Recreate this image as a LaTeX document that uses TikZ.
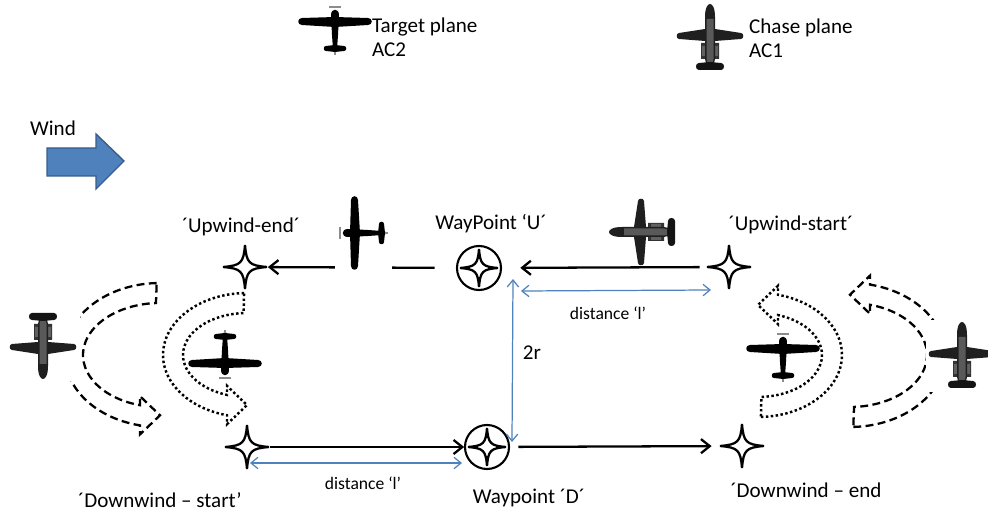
\documentclass[tikz,border=0pt]{standalone}
\usepackage{fontspec}
\setmainfont{Carlito}
\usetikzlibrary{arrows.meta, calc}

\definecolor{dimblue}{HTML}{4F81BD}
\definecolor{windedge}{HTML}{385D8A}

\tikzstyle{spot} = [circle, minimum size=0.9cm, inner sep=0]
\tikzstyle{lbl} = [font=\fontsize{12}{13.5}\selectfont, inner sep=1pt]
\tikzstyle{small} = [font=\fontsize{10}{12}\selectfont, inner sep=1pt]
\tikzstyle{flow} = [line width=1.3pt, -{Straight Barb[length=5pt,width=8pt]}]
\tikzstyle{dim} = [dimblue, line width=0.7pt, {Straight Barb[length=4pt,width=6.5pt]}-{Straight Barb[length=4pt,width=6.5pt]}]
\tikzstyle{dashturn} = [line width=1.3pt, dash pattern=on 4.5pt off 2.5pt]
\tikzstyle{dotturn} = [line width=1.4pt, dash pattern=on 1.4pt off 1.4pt]

\tikzset{
  % four pointed waypoint star
  pics/fourstar/.style={code={
    \draw[line width=1.3pt, fill=white] (22,0) .. controls (4,-1.5) and (1.5,-4) .. (0,-22)
      .. controls (-1.5,-4) and (-4,-1.5) .. (-22,0) .. controls (-4,1.5) and (-1.5,4) .. (0,22)
      .. controls (1.5,4) and (4,1.5) .. (22,0) -- cycle;
  }},
  pics/waypoint/.style={code={
    \draw[line width=1.2pt, fill=white] (0,0) circle[radius=22];
    \pic[scale=0.86] {fourstar};
  }},
  % curved turn arrow, opening to the right, head at the bottom
  pics/uturn/.style n args={4}{code={
    \pgfmathsetmacro\ao{180-acos(20/#1)}
    \pgfmathsetmacro\ai{180-acos(20/#3)}
    \pgfmathsetmacro\yo{#2*sin(\ao)}
    \pgfmathsetmacro\yi{#4*sin(\ai)}
    \draw[pic actions] (268:#1 and #2)
      arc[start angle=268, end angle=\ao, x radius=#1, y radius=#2]
      -- (-20,\yo+9) -- (0,{(\yo+\yi)/2}) -- (-20,\yi-9) -- (-20,\yi)
      arc[start angle=\ai, end angle=267, x radius=#3, y radius=#4] -- cycle;
  }},
  % AC2, nose up
  pics/target plane/.style={code={
    \fill[black] (0,-13) -- (-33,-12) .. controls (-38,-12) and (-38,-5) .. (-33,-5) -- (0,-3)
      -- (33,-5) .. controls (38,-5) and (38,-12) .. (33,-12) -- cycle;
    \fill[black] (-4,-15) .. controls (-4,-22) and (4,-22) .. (4,-15) -- (3,5) -- (1.8,22)
      -- (-1.8,22) -- (-3,5) -- cycle;
    \fill[black] (0,15) -- (-9,16) .. controls (-12,16) and (-12,21) .. (-9,21) -- (0,22)
      -- (9,21) .. controls (12,21) and (12,16) .. (9,16) -- cycle;
    \draw[black!45, line width=0.6pt] (-6,-23) -- (6,-23) (0,22) -- (0,25);
  }},
  % AC1, nose up
  pics/chase plane/.style={code={
    \fill[black!88] (-5,-8) -- (-31,-4) .. controls (-34,-4) and (-34,2) .. (-31,2) -- (-5,4)
      -- (5,4) -- (31,2) .. controls (34,2) and (34,-4) .. (31,-4) -- (5,-8) -- cycle;
    \fill[black!80] (-9,6) rectangle (-3,22) (3,6) rectangle (9,22);
    \fill[black!62] (-8,9) rectangle (-4,19) (4,9) rectangle (8,19);
    \fill[black!88] (-5,-20) .. controls (-5,-30) and (-2,-33) .. (0,-33)
      .. controls (2,-33) and (5,-30) .. (5,-20) -- (5,22) -- (3,30) -- (-3,30) -- (-5,22) -- cycle;
    \fill[black!65] (-3.5,-18) -- (3.5,-18) -- (3.5,22) -- (2,28) -- (-2,28) -- (-3.5,22) -- cycle;
    \fill[black!92] (0,25) -- (-11,26) .. controls (-15,26) and (-15,33) .. (-11,33) -- (11,33)
      .. controls (15,33) and (15,26) .. (11,26) -- cycle;
  }}
}

\begin{document}
\begin{tikzpicture}[x=0.02cm, y=-0.02cm]
\useasboundingbox (0,0) rectangle (988,513);

% legend
\pic at (335,30) {target plane};
\node[lbl, anchor=west, align=left] (tgtlabel) at (370,37) {Target plane\\AC2};
\pic at (710,37) {chase plane};
\node[lbl, anchor=west, align=left] (chslabel) at (747,38) {Chase plane\\AC1};

% wind
\node[lbl, anchor=west] (windlabel) at (28,128) {Wind};
\draw[fill=dimblue, draw=windedge, line width=0.8pt] (47,148) -- (96,148) -- (96,134) -- (124,161)
  -- (96,189) -- (96,176) -- (47,176) -- cycle;

% pattern points
\node[spot] (uend) at (245,267) {};
\node[spot] (wpU) at (479,268) {};
\node[spot] (ustart) at (729,267) {};
\node[spot] (dstart) at (247,447) {};
\node[spot] (wpD) at (487,447) {};
\node[spot] (dend) at (742,446) {};

\draw[flow, shorten <=3.7pt, shorten >=10.5pt] (ustart) -- (wpU);
\draw[flow, shorten <=12.2pt] (wpU) -- (uend);
\draw[flow] (dstart) -- (wpD);
\draw[flow, shorten <=4.8pt, shorten >=4.3pt] (wpD) -- (dend);

\pic at (uend) {fourstar};
\pic at (ustart) {fourstar};
\pic at (dstart) {fourstar};
\pic at (dend) {fourstar};
\pic at (wpU) {waypoint};
\pic at (wpD) {waypoint};

% dimensions
\draw[dim] ($(wpU)+(42,23)$) -- ($(ustart)+(-18,23)$);
\draw[dim] ($(wpU)+(34,11)$) -- ($(wpD)+(25,-5)$);
\draw[dim] ($(dstart)+(3,16)$) -- ($(wpD)+(-25,16)$);
\node[small] (distU) at (608,313) {distance ‘l’};
\node[small] (distD) at (363,483) {distance ‘l’};
\node[lbl] (radius) at (532,353) {2r};

% turns
\pic[dashturn] at (160,355) {uturn={95}{72}{77}{52}};
\pic[dotturn] at (247,355) {uturn={84}{62}{64}{42}};
\pic[dotturn, rotate=180] at (758,355) {uturn={84}{62}{64}{42}};
\pic[dashturn, rotate=180] at (850,355) {uturn={95}{72}{77}{52}};

% aircraft on the pattern
\fill[white] (335,196) rectangle (392,272);
\pic[rotate=90] at (363,233) {target plane};
\pic[rotate=90] at (642,232) {chase plane};
\pic[rotate=180] at (225,355) {target plane};
\pic at (783,357) {target plane};
\fill[white] (6,311) rectangle (80,381);
\pic[rotate=180] at (43,346) {chase plane};
\fill[white] (926,320) rectangle (990,392);
\pic at (962,355) {chase plane};

% point labels
\node[lbl] (uendlabel) at (241,227) {´Upwind-end´};
\node[lbl] (wpUlabel) at (491,224) {WayPoint ‘U´};
\node[lbl] (ustartlabel) at (791,225) {´Upwind-start´};
\node[lbl] (dstartlabel) at (160,500) {´Downwind – start’};
\node[lbl] (wpDlabel) at (529,498) {Waypoint ´D´};
\node[lbl] (dendlabel) at (806,490) {´Downwind – end};

\end{tikzpicture}
\end{document}
